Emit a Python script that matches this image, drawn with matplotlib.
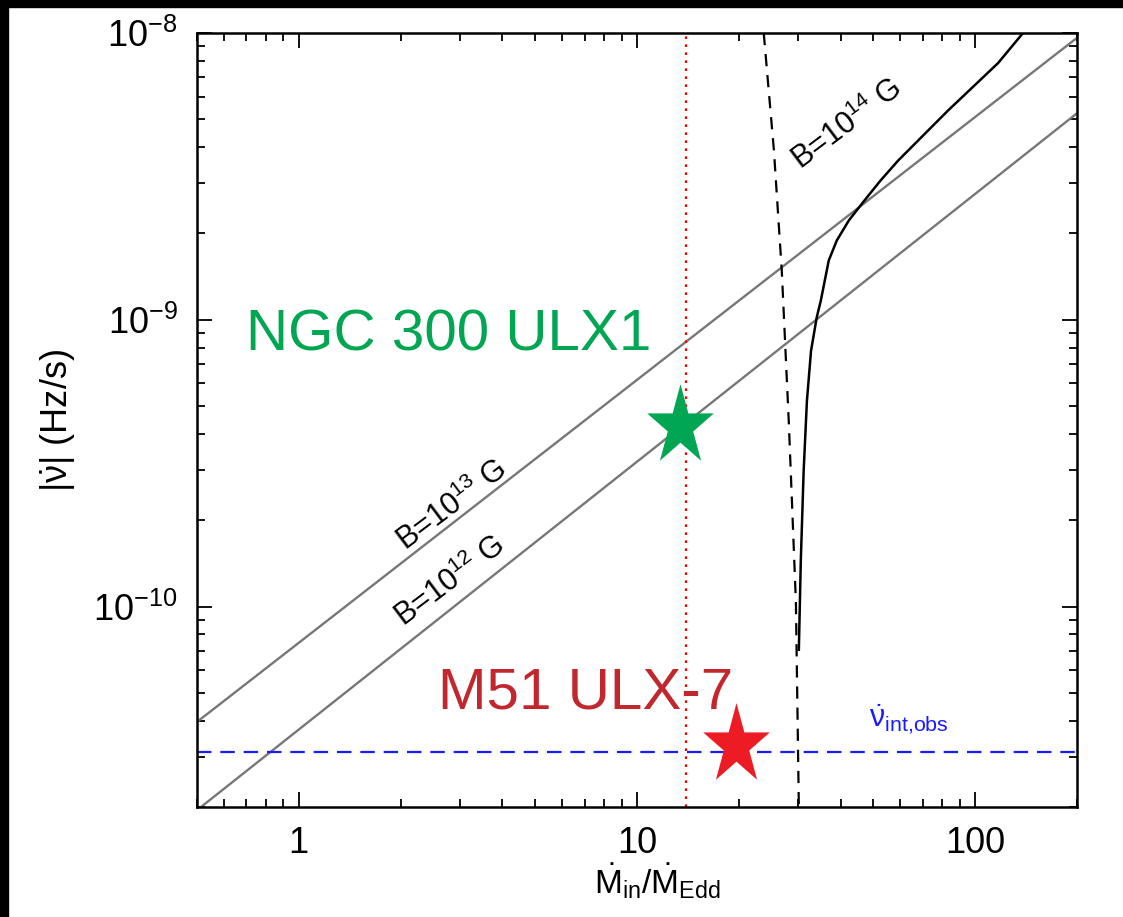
import matplotlib
matplotlib.use("Agg")
import matplotlib.pyplot as plt
from matplotlib.patches import Rectangle
from matplotlib.path import Path
import numpy as np

plt.rcParams['font.family'] = ['Liberation Sans', 'DejaVu Sans']
plt.rcParams['mathtext.fontset'] = 'custom'
plt.rcParams['mathtext.rm'] = 'Liberation Sans'
plt.rcParams['mathtext.it'] = 'Liberation Sans:italic'
plt.rcParams['mathtext.bf'] = 'Liberation Sans:bold'
plt.rcParams['mathtext.sf'] = 'Liberation Sans'

# Spin-up lines for two field strengths (power laws, endpoints at the x limits)
mdot_line = [0.5, 200.0]
nudot_b13 = [3.96e-11, 9.62e-9]
nudot_b12 = [1.95e-11, 5.25e-9]

# B = 1e14 G track (solid) and its limiting branch (dashed)
mdot_b14 = [30.1, 30.5, 31.1, 31.8, 32.7, 34.0, 34.95, 36.9, 38.96, 42.3, 47.1, 52.5,
            59.3, 83.3, 116.8, 138.5]
nudot_b14 = [7.07e-11, 1.44e-10, 2.97e-10, 5.21e-10, 7.79e-10, 1.02e-9, 1.165e-9, 1.61e-9,
             1.889e-9, 2.22e-9, 2.61e-9, 3.06e-9, 3.60e-9, 5.38e-9, 7.85e-9, 1.0e-8]
mdot_lim = [23.7, 25.4, 26.8, 28.1, 29.5, 30.1]
nudot_lim = [1.0e-8, 3.9e-9, 1.48e-9, 4.44e-10, 1.04e-10, 2.0e-11]

# Observed quantities
nudot_int_obs = 3.1e-11
mdot_ngc300 = 14.0
ngc300_x, ngc300_y = 13.39, 4.27e-10
m51_x, m51_y = 19.64, 3.30e-11

xticks = [1, 10, 100]
xtick_labels = ["1", "10", "100"]

fig = plt.figure(figsize=(11.23, 9.17), dpi=100)
ax = fig.add_axes([197/1123, 1-807/917, 880/1123, 774/917])
ax.set_xscale('log')
ax.set_yscale('log')
ax.set_xlim(0.5, 200)
ax.set_ylim(2e-11, 1e-8)

gray = '#777777'
ax.plot(mdot_line, nudot_b13, color=gray, lw=1.7)
ax.plot(mdot_line, nudot_b12, color=gray, lw=1.7)
ax.plot(mdot_b14, nudot_b14, color='black', lw=1.8)
ax.plot(mdot_lim, nudot_lim, color='black', lw=1.6, dashes=(5.5, 4))
ax.axhline(nudot_int_obs, color='#1a1aff', lw=1.6, dashes=(6.5, 4))
ax.axvline(mdot_ngc300, color='red', lw=1.6, dashes=(1.2, 2.4))

# Stars slightly taller than wide
ang = np.pi/2 + np.arange(10) * np.pi/5
rad = np.where(np.arange(10) % 2 == 0, 1.0, 0.382)
verts = np.column_stack([rad*np.cos(ang), 1.21*rad*np.sin(ang)])
verts = np.vstack([verts, verts[:1]])
star = Path(verts, closed=True)
ax.plot([ngc300_x], [ngc300_y], marker=star, ms=61, color='#00a651', mec='none', zorder=5)
ax.plot([m51_x], [m51_y], marker=star, ms=61, color='#ed1c24', mec='none', zorder=5)

ax.text(2.77, 8.79e-10, "NGC 300 ULX1", color='#00a651', fontsize=42, ha='center', va='center')
ax.text(7.05, 4.96e-11, "M51 ULX-7", color='#c1272d', fontsize=42, ha='center', va='center')
ax.text(2.84, 2.24e-10, r"B=10$^{13}$ G", fontsize=22, rotation=37, ha='center', va='center',
        rotation_mode='anchor')
ax.text(2.80, 1.22e-10, r"B=10$^{12}$ G", fontsize=22, rotation=37, ha='center', va='center',
        rotation_mode='anchor')
ax.text(41.7, 4.77e-9, r"B=10$^{14}$ G", fontsize=22, rotation=37, ha='center', va='center',
        rotation_mode='anchor')
ax.text(48.4, 3.8e-11, r"$\dot{\mathrm{\nu}}_{\mathrm{int{,}obs}}$", color='#1a1aff', fontsize=22,
        ha='left', va='baseline')

ax.set_xticks(xticks)
ax.set_xticklabels(xtick_labels)
ax.tick_params(which='both', direction='in', top=True, right=True, labelsize=26)
ax.tick_params(which='major', length=11, width=1.3, pad=14)
ax.tick_params(which='minor', length=6, width=1.3)
for sp in ax.spines.values():
    sp.set_linewidth(1.8)

ax.set_xlabel(r"$\dot{\mathrm{M}}_{\mathrm{in}}/\dot{\mathrm{M}}_{\mathrm{Edd}}$", fontsize=24)
ax.xaxis.set_label_coords(0.523, -0.071)
ax.xaxis.label.set_va('top')
ax.set_ylabel(r"$|\dot{\mathrm{\nu}}|$ (Hz/s)", fontsize=26)
ax.yaxis.set_label_coords(-0.135, 0.5)

fig.add_artist(Rectangle((0, 1-7/917), 1, 7/917, transform=fig.transFigure,
                         color='black', zorder=10))
fig.add_artist(Rectangle((0, 0), 8/1123, 1, transform=fig.transFigure,
                         color='black', zorder=10))

fig.savefig("out.png", dpi=100)
